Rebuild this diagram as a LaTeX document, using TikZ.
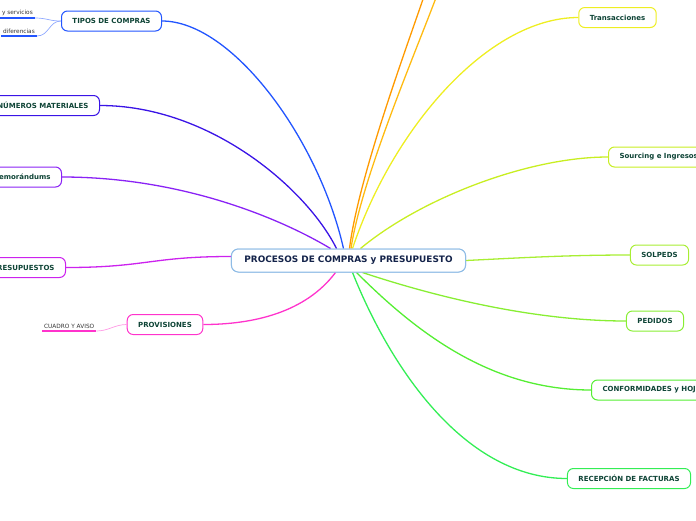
\documentclass[tikz,border=0pt]{standalone}
\usepackage{fontspec}
\setmainfont{DejaVu Sans}
\usetikzlibrary{positioning}
\definecolor{rootline}{HTML}{8FBCE6}
\definecolor{rootink}{HTML}{14234A}
\definecolor{inkgreen}{HTML}{0E4436}
\definecolor{leafink}{HTML}{333333}
\definecolor{ctipos}{HTML}{2255FF}
\definecolor{cnumeros}{HTML}{3A14E6}
\definecolor{cmemo}{HTML}{8A22F5}
\definecolor{cpresup}{HTML}{CC22EE}
\definecolor{cprovis}{HTML}{FF33CC}
\definecolor{corangeA}{HTML}{FF9A00}
\definecolor{corangeB}{HTML}{FFBB11}
\definecolor{ctrans}{HTML}{EEEE22}
\definecolor{csourcing}{HTML}{C8EE22}
\definecolor{csolpeds}{HTML}{A8EE33}
\definecolor{cpedidos}{HTML}{88EE33}
\definecolor{cconform}{HTML}{55EE33}
\definecolor{crecep}{HTML}{33EE55}
\tikzset{
    root/.style={rectangle, draw=rootline, line width=1pt, rounded corners=7pt, fill=white,
                 minimum height=23pt, inner xsep=13pt, text=rootink,
                 font=\fontsize{8.9}{10}\selectfont\bfseries},
    branch/.style={rectangle, draw, line width=1pt, rounded corners=6pt, fill=white,
                   minimum height=20pt, inner xsep=11pt, text=inkgreen,
                   font=\fontsize{7}{8}\selectfont\bfseries},
    leaf/.style={inner xsep=2pt, inner ysep=2pt, text=leafink,
                 font=\fontsize{5.8}{7}\selectfont},
    link/.style={line width=1.3pt},
    twig/.style={line width=0.7pt},
    underline/.style={line width=1.6pt},
}
\begin{document}
\begin{tikzpicture}[x=1pt, y=-1pt]
    \clip (0,0) rectangle (696,520);

    % -- central topic --
    \node[root] (root) at (348.5,260.5) {PROCESOS DE COMPRAS y PRESUPUESTO};

    % -- left side --
    \node[branch, draw=ctipos] (tipos) at (111.5,21) {TIPOS DE COMPRAS};
    \node[branch, draw=cnumeros, anchor=east] (numeros) at (100,105.5) {NÚMEROS MATERIALES};
    \node[branch, draw=cmemo, anchor=east] (memo) at (62,177) {Memorándums};
    \node[branch, draw=cpresup, anchor=east] (presup) at (66,267.5) {PRESUPUESTOS};
    \node[branch, draw=cprovis] (provis) at (165,324.5) {PROVISIONES};

    % -- right side --
    \node[branch, draw=ctrans] (trans) at (617.5,17.5) {Transacciones};
    \node[branch, draw=csourcing, anchor=west] (sourcing) at (608,157) {Sourcing e Ingresos};
    \node[branch, draw=csolpeds] (solpeds) at (659.5,255) {SOLPEDS};
    \node[branch, draw=cpedidos] (pedidos) at (655,321) {PEDIDOS};
    \node[branch, draw=cconform, anchor=west] (conform) at (591,390) {CONFORMIDADES y HOJ};
    \node[branch, draw=crecep] (recep) at (629,478.5) {RECEPCIÓN DE FACTURAS};

    % -- branches going off the top --
    \coordinate (offA) at (431,-25);
    \coordinate (offB) at (444,-25);

    % -- leaves --
    \node[leaf, anchor=south east] (servicios) at (35,18) {y servicios};
    \node[leaf, anchor=south east] (diferencias) at (37,36) {diferencias};
    \node[leaf, anchor=south west] (cuadro) at (42,331) {CUADRO Y AVISO};

    % -- connectors --
    \draw[link, ctipos] ([xshift=-5pt]root.north) .. controls +(-25,-110) and +(70,0) .. (tipos.east);
    \draw[link, cnumeros] ([xshift=-12pt]root.north) .. controls +(-30,-60) and +(110,0) .. (numeros.east);
    \draw[link, cmemo] ([xshift=-18pt]root.north) .. controls +(-50,-30) and +(120,0) .. (memo.east);
    \draw[link, cpresup] ([yshift=4pt]root.west) .. controls +(-80,0) and +(80,0) .. (presup.east);
    \draw[link, cprovis] ([xshift=-13pt]root.south) .. controls +(-30,40) and +(50,0) .. (provis.east);

    \draw[link, corangeA] ([xshift=1pt]root.north) .. controls +(10,-80) and +(-12,40) .. (offA);
    \draw[link, corangeB] ([xshift=2.5pt]root.north) .. controls +(12,-80) and +(-12,40) .. (offB);
    \draw[link, ctrans] ([xshift=4pt]root.north) .. controls +(40,-120) and +(-90,0) .. (trans.west);
    \draw[link, csourcing] ([xshift=12pt]root.north) .. controls +(60,-50) and +(-80,0) .. (sourcing.west);
    \draw[link, csolpeds] (root.east) .. controls +(60,-3) and +(-60,0) .. (solpeds.west);
    \draw[link, cpedidos] ([xshift=14pt]root.south) .. controls +(60,20) and +(-100,0) .. (pedidos.west);
    \draw[link, cconform] ([xshift=8pt]root.south) .. controls +(60,60) and +(-100,0) .. (conform.west);
    \draw[link, crecep] ([xshift=4pt]root.south) .. controls +(40,100) and +(-100,0) .. (recep.west);

    % leaf twigs and underlines
    \draw[twig, ctipos!50] (tipos.west) .. controls +(-12,0) and +(12,0) .. (servicios.south east);
    \draw[twig, ctipos!50] (tipos.west) .. controls +(-12,0) and +(12,0) .. (diferencias.south east);
    \draw[underline, ctipos] (servicios.south west) -- (servicios.south east);
    \draw[underline, ctipos] (diferencias.south west) -- (diferencias.south east);
    \draw[twig, cprovis!50] (provis.west) .. controls +(-12,0) and +(12,0) .. (cuadro.south east);
    \draw[underline, cprovis] (cuadro.south west) -- (cuadro.south east);

    % redraw nodes on top of connectors
    \node[root] at (root) {PROCESOS DE COMPRAS y PRESUPUESTO};
\end{tikzpicture}
\end{document}
